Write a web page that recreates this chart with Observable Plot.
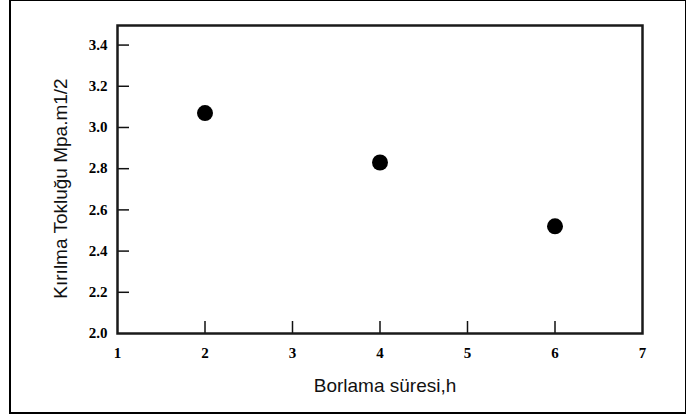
<!DOCTYPE html>
<html>
<head>
<meta charset="utf-8">
<script src="https://cdn.jsdelivr.net/npm/d3@7"></script>
<script src="https://cdn.jsdelivr.net/npm/@observablehq/plot@0.6"></script>
<style>
  html, body { margin: 0; padding: 0; background: #fff; }
  #wrap { position: relative; width: 686px; height: 416px; }
  #border { position: absolute; left: 9px; top: -1px; width: 674px; height: 411px; border: 2px solid #000; pointer-events: none; }
  #chart { position: absolute; left: 0; top: 0; }
</style>
</head>
<body>
<div id="wrap"><div id="chart"></div><div id="border"></div></div>
<script>
const hours = [2, 4, 6];
const toughness = [3.07, 2.83, 2.52];
const xTicks = [1, 2, 3, 4, 5, 6, 7];
const yTicks = [2.0, 2.2, 2.4, 2.6, 2.8, 3.0, 3.2, 3.4];
const xInnerTicks = [2, 3, 4, 5, 6];
const yInnerTicks = [2.2, 2.4, 2.6, 2.8, 3.0, 3.2, 3.4];
const xLabel = "Borlama süresi,h";
const yLabel = "Kırılma Tokluğu Mpa.m1/2";

const data = hours.map((h, i) => ({h, v: toughness[i]}));
const tickFont = {fontFamily: "'Liberation Serif', 'Times New Roman', serif", fontWeight: "bold", fontSize: 15};
const labelFont = {fontFamily: "'Liberation Sans', Arial, sans-serif", fontSize: 19, fill: "#111"};

const chart = Plot.plot({
  width: 686,
  height: 416,
  marginLeft: 117,
  marginRight: 44,
  marginTop: 25,
  marginBottom: 83,
  style: {background: "transparent", color: "#000"},
  x: {domain: [1, 7]},
  y: {domain: [2.0, 3.495]},
  marks: [
    // inward tick marks
    Plot.axisX({ticks: xInnerTicks, tickSize: -12, tickFormat: () => "", label: null, strokeWidth: 1.5, stroke: "#111"}),
    Plot.axisY({ticks: yInnerTicks, tickSize: -12, tickFormat: () => "", label: null, strokeWidth: 1.5, stroke: "#111"}),
    // tick labels
    Plot.axisX({ticks: xTicks, tickSize: 0, tickPadding: 14, tickFormat: d3.format("d"), label: null, ...tickFont}),
    Plot.axisY({ticks: yTicks, tickSize: 0, tickPadding: 10, tickFormat: d3.format(".1f"), label: null, ...tickFont}),
    Plot.frame({stroke: "#1a1a1a", strokeWidth: 2.5}),
    Plot.dot(data, {x: "h", y: "v", r: 8, fill: "#000", stroke: null}),
    Plot.text([xLabel], {frameAnchor: "bottom", textAnchor: "middle", lineAnchor: "middle", dx: 5, dy: 52, ...labelFont}),
    Plot.text([yLabel], {frameAnchor: "left", textAnchor: "middle", lineAnchor: "middle", rotate: -90, dx: -57, dy: 9, ...labelFont})
  ]
});
document.getElementById("chart").appendChild(chart);
</script>
</body>
</html>
